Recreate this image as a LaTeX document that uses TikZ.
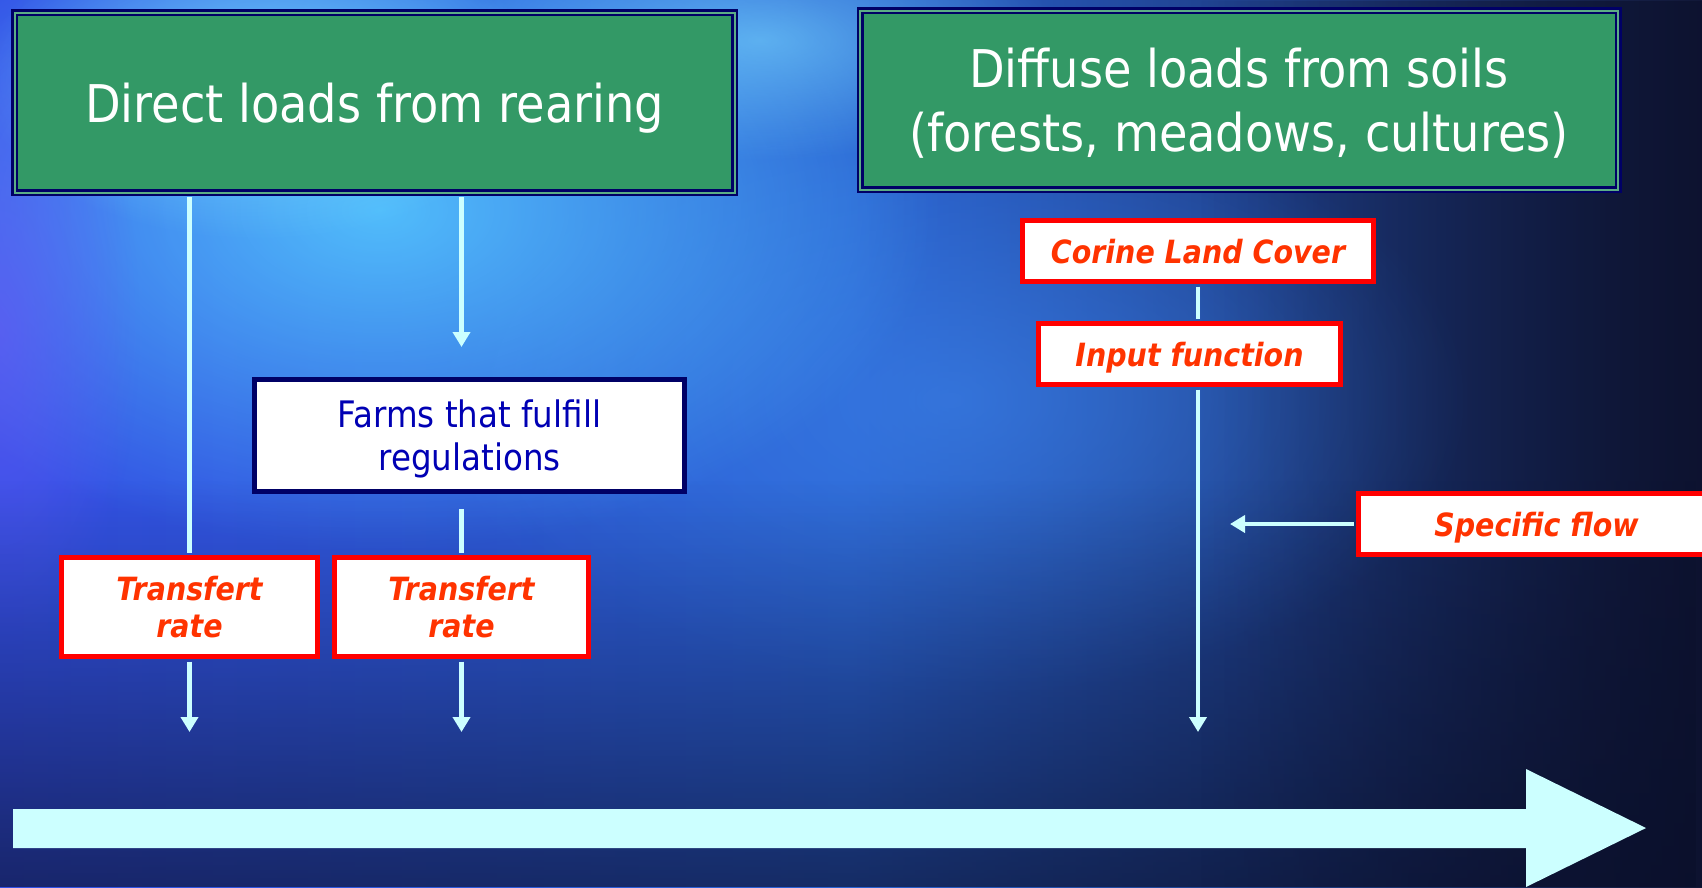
\documentclass[tikz,border=0pt]{standalone}
\usepackage{fontspec}
\setmainfont{DejaVu Sans}[FakeStretch=0.89]
\usetikzlibrary{arrows.meta,fadings}

\definecolor{boxgreen}{HTML}{339966}
\definecolor{boxedge}{HTML}{000066}
\definecolor{paleline}{HTML}{CCFFFF}
\definecolor{alertred}{HTML}{FF0000}
\definecolor{alerttext}{HTML}{FF3300}
\definecolor{farmblue}{HTML}{0000B4}
\definecolor{skyleft}{HTML}{3350E6}
\definecolor{skymid}{HTML}{2A62D2}
\definecolor{skyright}{HTML}{121838}
\definecolor{glowcyan}{HTML}{55C8FF}
\definecolor{glowpale}{HTML}{7ADCFF}
\definecolor{glowblue}{HTML}{3A7FE6}
\definecolor{glowviolet}{HTML}{6A5AF5}
\definecolor{deepnavy}{HTML}{0A0F2A}

\tikzfading[name=glow, inner color=transparent!0, outer color=transparent!100]
\tikzfading[name=fadebottom, top color=transparent!100, bottom color=transparent!0]
\tikzfading[name=faderight, left color=transparent!100, right color=transparent!0]

\tikzset{
  headbox/.style={draw=boxedge, double=boxgreen!80!white, double distance=2pt,
    line width=2.5pt, fill=boxgreen, text=white, align=center, inner sep=0pt,
    text depth=0pt, font=\fontsize{52}{64}\selectfont},
  redbox/.style={draw=alertred, line width=5pt, fill=white, text=alerttext,
    align=center, inner sep=0pt, font=\fontsize{32}{37}\selectfont\bfseries\itshape},
  farmbox/.style={draw=boxedge, line width=5pt, fill=white, text=farmblue,
    align=center, inner sep=0pt, text depth=0pt, font=\fontsize{36.5}{43}\selectfont},
  link/.style={draw=paleline, line width=4.5pt},
  flow/.style={link, -{Triangle[length=15pt,width=17pt]}},
}

\begin{document}
\begin{tikzpicture}[x=1pt, y=-1pt]
\useasboundingbox (0,0) rectangle (1702,887);
\clip (0,0) rectangle (1702,887);

% backdrop: blue sky fading to deep navy
\fill[left color=skyleft, right color=skyright, middle color=skymid]
  (0,0) rectangle (1702,887);
\fill[glowblue, fill opacity=0.7, path fading=glow] (950,400) ellipse [x radius=520, y radius=300];
\fill[glowcyan, fill opacity=0.9, path fading=glow] (380,210) ellipse [x radius=560, y radius=340];
\fill[glowpale, fill opacity=0.8, path fading=glow] (260,80) ellipse [x radius=280, y radius=160];
\fill[glowpale, fill opacity=0.6, path fading=glow] (760,40) ellipse [x radius=300, y radius=120];
\fill[glowviolet, fill opacity=0.6, path fading=glow] (0,330) ellipse [x radius=140, y radius=320];
\fill[deepnavy, fill opacity=0.65, path fading=fadebottom] (0,480) rectangle (1702,887);
\fill[deepnavy, fill opacity=0.6, path fading=faderight] (1200,0) rectangle (1702,887);

% headline boxes
\node[headbox, minimum width=720pt, minimum height=180pt] (G1) at (374.5,102.5)
  {Direct loads from rearing};
\node[headbox, minimum width=758pt, minimum height=179pt] (G2) at (1239,100)
  {Diffuse loads from soils\\(forests, meadows, cultures)};

% rearing branch
\node[farmbox, minimum width=430pt, minimum height=112pt] (F) at (469.5,435.5)
  {Farms that fulfill\\regulations};
\node[redbox, minimum width=256pt, minimum height=99pt] (T1) at (189.5,607)
  {Transfert\\rate};
\node[redbox, minimum width=254pt, minimum height=99pt] (T2) at (461.5,607)
  {Transfert\\rate};

% soil branch
\node[redbox, text depth=0pt, minimum width=351pt, minimum height=61pt] (C) at (1198,251)
  {Corine Land Cover};
\node[redbox, text depth=0pt, minimum width=302pt, minimum height=61pt] (I) at (1189.5,354)
  {Input function};
\node[redbox, text depth=0pt, minimum width=356pt, minimum height=61pt] (S) at (1536.5,524)
  {Specific flow};

% loose ends of the connectors
\coordinate (e1) at (189.5,732);
\coordinate (e2) at (461.5,732);
\coordinate (e3) at (1198,732);
\coordinate (a2) at (461.5,347);
\coordinate (s2) at (461.5,509);
\coordinate (e4) at (1230,524);

\draw[link, shorten <=3.5pt, shorten >=2.5pt] (G1.south -| T1.north) -- (T1.north);
\draw[flow, shorten <=2.5pt] (T1.south) -- (e1);
\draw[flow, shorten <=3.5pt] (G1.south -| T2.north) -- (a2);
\draw[link, shorten >=2.5pt] (s2) -- (T2.north);
\draw[flow, shorten <=2.5pt] (T2.south) -- (e2);
\draw[link, shorten <=2.5pt, shorten >=2.5pt] (C.south) -- (I.north -| C.south);
\draw[flow, shorten <=2.5pt] (I.south -| C.south) -- (e3);
\draw[flow, shorten <=2.5pt] (S.west) -- (e4);

% broad arrow along the bottom
\fill[paleline] (13,809) -- (1526,809) -- (1526,769) -- (1646,828)
  -- (1526,887) -- (1526,848) -- (13,848) -- cycle;
\end{tikzpicture}
\end{document}
